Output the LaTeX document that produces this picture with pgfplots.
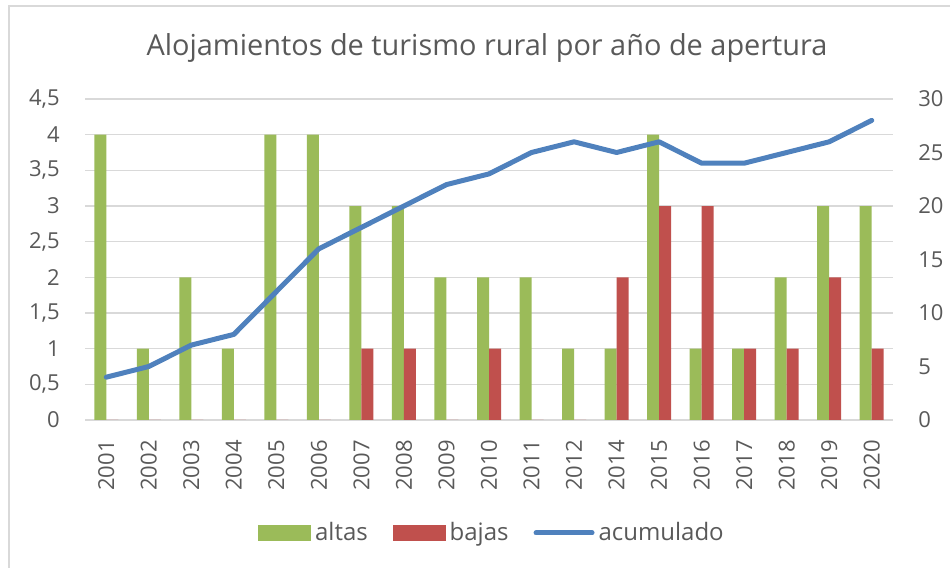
\documentclass[border=0pt]{standalone}
\usepackage{pgfplots}
\usepackage{pgfplotstable}
\pgfplotsset{compat=1.18}
\usepackage{fontspec}
\setmainfont{Open Sans}
\definecolor{cgreen}{HTML}{9BBB59}
\definecolor{cred}{HTML}{C0504D}
\definecolor{cblue}{HTML}{4F81BD}
\definecolor{cgrid}{HTML}{D9D9D9}
\definecolor{ctext}{HTML}{595959}

\pgfplotstableread{
x year altas bajas acum
0 2001 4 0 4
1 2002 1 0 5
2 2003 2 0 7
3 2004 1 0 8
4 2005 4 0 12
5 2006 4 0 16
6 2007 3 1 18
7 2008 3 1 20
8 2009 2 0 22
9 2010 2 1 23
10 2011 2 0 25
11 2012 1 0 26
12 2014 1 2 25
13 2015 4 3 26
14 2016 1 3 24
15 2017 1 1 24
16 2018 2 1 25
17 2019 3 2 26
18 2020 3 1 28
}\data

\begin{document}
\begin{tikzpicture}
\useasboundingbox (0,0) rectangle (475pt,284pt);
\draw[cgrid, line width=1pt] (4.5pt,0) -- (4.5pt,281pt) -- (475pt,281pt);
\node[anchor=base, text=ctext, font=\fontsize{14.45}{16}\selectfont, inner sep=0pt] at (243.5pt,256pt) {Alojamientos de turismo rural por año de apertura};
\begin{axis}[
  at={(42.5pt,74pt)}, anchor=south west,
  scale only axis, width=404pt, height=160.5pt,
  xmin=-0.5, xmax=18.5, ymin=0, ymax=4.5,
  ytick={0,0.5,1,1.5,2,2.5,3,3.5,4,4.5},
  xtick={0,...,18},
  xticklabels={2001,2002,2003,2004,2005,2006,2007,2008,2009,2010,2011,2012,2014,2015,2016,2017,2018,2019,2020},
  /pgf/number format/use comma,
  /pgf/number format/assume math mode=true,
  axis line style={draw=none},
  major tick length=0pt,
  ymajorgrids, grid style={cgrid, line width=0.75pt},
  ybar=0pt, bar width=6pt,
  ticklabel style={text=ctext, font=\fontsize{11}{13}\selectfont},
  yticklabel style={inner sep=0pt, anchor=east, xshift=-12.5pt},
  xticklabel style={inner sep=0pt, rotate=90, anchor=east, xshift=-10pt},
  clip=false,
]
\addplot[fill=cgreen, draw=none] table[x=x, y=altas] {\data};
\addplot[fill=cred, draw=none] table[x=x, y=bajas] {\data};
\end{axis}
\begin{axis}[
  at={(42.5pt,74pt)}, anchor=south west,
  scale only axis, width=404pt, height=160.5pt,
  xmin=-0.5, xmax=18.5, ymin=0, ymax=30,
  ytick={0,5,10,15,20,25,30},
  axis y line*=right,
  axis x line=none,
  axis line style={draw=none},
  major tick length=0pt,
  /pgf/number format/assume math mode=true,
  ticklabel style={text=ctext, font=\fontsize{11}{13}\selectfont},
  yticklabel style={inner sep=0pt, anchor=west, xshift=12.5pt},
  legend style={at={(0.505,-0.352)}, anchor=center, draw=none, fill=none,
    legend columns=3, font=\fontsize{12}{14}\selectfont, text=ctext,
    /tikz/every even column/.append style={column sep=10.5pt},
    legend cell align=left, inner sep=0pt},
  clip=false,
]
\addlegendimage{legend image code/.code={\fill[cgreen] (0pt,-3.75pt) rectangle (26pt,3.75pt);}}
\addlegendentry{altas}
\addlegendimage{legend image code/.code={\fill[cred] (0pt,-3.75pt) rectangle (26pt,3.75pt);}}
\addlegendentry{bajas}
\addplot[cblue, line width=2.5pt, line join=round, line cap=round, legend image code/.code={\draw[cblue, line width=2.5pt, line cap=round] (1pt,0pt) -- (29pt,0pt);}] table[x=x, y=acum] {\data};
\addlegendentry{acumulado}
\end{axis}
\end{tikzpicture}
\end{document}
